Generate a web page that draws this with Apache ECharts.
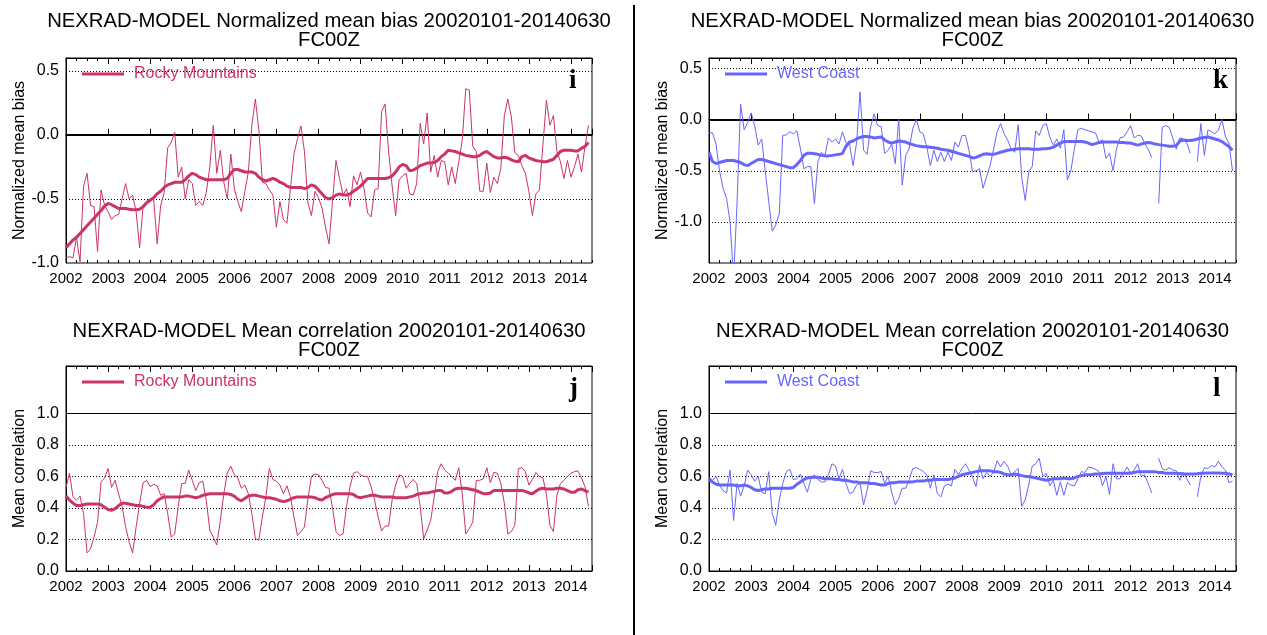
<!DOCTYPE html>
<html><head><meta charset="utf-8">
<script src="https://cdn.jsdelivr.net/npm/echarts@6/dist/echarts.min.js"></script>
<style>html,body{margin:0;padding:0;background:#fff}#c{width:1267px;height:635px}</style>
</head><body><div id="c"></div>
<script>
// ---- categories ----
const startYear = 2002, nMonths = 150;
const months = Array.from({length: nMonths}, (_, i) =>
  (startYear + Math.floor(i / 12)) + '-' + String(i % 12 + 1).padStart(2, '0'));
const yearLabels = [2002,2003,2004,2005,2006,2007,2008,2009,2010,2011,2012,2013,2014];
const biasTicks = [0.5, 0.0, -0.5, -1.0];
const corrTicks = [0.0, 0.2, 0.4, 0.6, 0.8, 1.0];
const biasGridRocky = [0.5, -0.5];
const biasGridWest = [0.5, -0.5, -1.0];
const corrGrid = [0.2, 0.4, 0.6, 0.8];

// ---- series values (monthly, 2002-01 .. 2014-06) ----
const rockyBias = [-0.96,-0.95,-0.96,-0.80,-0.99,-0.40,-0.30,-0.55,-0.56,-0.91,
 -0.43,-0.55,-0.60,-0.66,-0.63,-0.62,-0.50,-0.38,-0.50,-0.47,
 -0.60,-0.88,-0.55,-0.52,-0.50,-0.50,-0.85,-0.55,-0.45,-0.10,
 -0.06,0.02,-0.33,-0.25,-0.50,-0.35,-0.38,-0.55,-0.52,-0.55,
 -0.45,-0.25,0.075,-0.30,-0.12,-0.37,-0.50,-0.15,-0.42,-0.52,
 -0.60,-0.44,-0.29,0.075,0.28,0.04,-0.37,-0.38,-0.43,-0.47,
 -0.72,-0.52,-0.66,-0.69,-0.42,-0.15,-0.03,0.07,-0.13,-0.53,
 -0.63,-0.44,-0.49,-0.57,-0.72,-0.85,-0.52,-0.20,-0.34,-0.47,
 -0.42,-0.56,-0.32,-0.39,-0.29,-0.42,-0.61,-0.64,-0.43,-0.42,
 0.18,0.24,-0.13,-0.40,-0.63,-0.35,-0.32,-0.30,-0.46,-0.47,
 -0.38,0.09,-0.07,0.17,-0.29,-0.16,-0.33,-0.20,-0.21,-0.39,
 -0.25,-0.38,-0.21,-0.04,0.36,0.35,-0.09,-0.13,-0.44,-0.44,
 -0.22,-0.45,-0.33,-0.38,-0.26,0.15,0.28,0.14,-0.14,-0.16,
 -0.24,-0.30,-0.44,-0.63,-0.46,-0.43,-0.08,0.27,0.075,0.15,
 -0.13,-0.21,-0.34,-0.20,-0.33,-0.25,-0.15,-0.29,-0.09,0.075];
const rockyBiasSmooth = [-0.88,-0.85,-0.82,-0.80,-0.77,-0.74,-0.71,-0.68,-0.65,-0.62,
 -0.59,-0.555,-0.535,-0.545,-0.56,-0.575,-0.575,-0.575,-0.58,-0.585,
 -0.585,-0.58,-0.56,-0.53,-0.51,-0.49,-0.46,-0.44,-0.41,-0.39,
 -0.38,-0.37,-0.37,-0.37,-0.35,-0.32,-0.30,-0.31,-0.33,-0.34,
 -0.35,-0.35,-0.35,-0.35,-0.35,-0.35,-0.34,-0.30,-0.27,-0.27,
 -0.28,-0.29,-0.29,-0.29,-0.30,-0.33,-0.35,-0.36,-0.35,-0.34,
 -0.35,-0.37,-0.38,-0.40,-0.41,-0.41,-0.41,-0.41,-0.42,-0.41,
 -0.39,-0.40,-0.43,-0.46,-0.49,-0.50,-0.49,-0.47,-0.46,-0.47,
 -0.47,-0.46,-0.44,-0.42,-0.40,-0.37,-0.34,-0.34,-0.34,-0.34,
 -0.34,-0.34,-0.335,-0.32,-0.29,-0.25,-0.23,-0.24,-0.28,-0.275,
 -0.26,-0.24,-0.23,-0.22,-0.22,-0.215,-0.20,-0.17,-0.15,-0.12,
 -0.125,-0.13,-0.14,-0.15,-0.16,-0.165,-0.17,-0.17,-0.16,-0.14,
 -0.13,-0.15,-0.17,-0.18,-0.18,-0.175,-0.18,-0.195,-0.205,-0.21,
 -0.17,-0.16,-0.18,-0.19,-0.20,-0.205,-0.21,-0.21,-0.20,-0.19,
 -0.16,-0.13,-0.12,-0.12,-0.12,-0.125,-0.125,-0.105,-0.09,-0.06];
const westBias = [-0.13,-0.13,-0.24,-0.50,-0.67,-0.77,-1.00,-1.55,-0.80,0.15,
 -0.10,-0.03,0.065,-0.06,-0.25,-0.19,-0.50,-0.80,-1.09,-1.03,
 -0.92,-0.155,-0.15,-0.12,-0.14,-0.11,-0.28,-0.48,-0.46,-0.46,
 -0.82,-0.41,-0.32,-0.35,-0.18,-0.22,-0.19,-0.24,-0.12,-0.23,
 -0.24,-0.45,-0.23,0.27,-0.30,-0.34,-0.07,0.055,-0.06,-0.07,
 -0.33,-0.30,-0.24,-0.43,0.00,-0.64,-0.35,-0.28,-0.09,0.00,
 -0.12,-0.14,-0.27,-0.45,-0.30,-0.41,-0.32,-0.41,-0.32,-0.40,
 -0.22,-0.27,-0.155,-0.155,-0.30,-0.51,-0.50,-0.48,-0.67,-0.56,
 -0.45,-0.29,-0.12,-0.04,-0.14,-0.20,-0.29,-0.32,-0.05,-0.56,
 -0.79,-0.51,-0.46,-0.11,-0.155,-0.06,-0.04,-0.17,-0.25,-0.19,
 -0.28,-0.10,-0.59,-0.50,-0.285,-0.10,-0.085,-0.10,-0.11,-0.12,
 -0.13,-0.22,-0.20,-0.38,-0.33,-0.50,-0.285,-0.18,-0.17,-0.12,
 -0.06,-0.18,-0.155,-0.16,-0.23,-0.29,-0.37,null,-0.82,-0.075,
 -0.06,-0.075,-0.18,-0.29,-0.18,-0.19,-0.23,-0.33,null,-0.41,
 -0.04,-0.35,-0.10,-0.12,-0.14,-0.10,0.00,-0.17,-0.23,-0.50];
const westBiasSmooth = [-0.32,-0.41,-0.43,-0.42,-0.41,-0.40,-0.40,-0.40,-0.41,-0.42,
 -0.44,-0.45,-0.43,-0.41,-0.39,-0.39,-0.40,-0.41,-0.42,-0.43,
 -0.44,-0.45,-0.46,-0.47,-0.47,-0.44,-0.40,-0.35,-0.33,-0.33,
 -0.335,-0.34,-0.35,-0.355,-0.355,-0.35,-0.345,-0.34,-0.33,-0.26,
 -0.22,-0.21,-0.19,-0.175,-0.165,-0.165,-0.17,-0.18,-0.175,-0.17,
 -0.20,-0.22,-0.23,-0.22,-0.21,-0.215,-0.22,-0.235,-0.245,-0.255,
 -0.26,-0.265,-0.265,-0.27,-0.275,-0.28,-0.29,-0.295,-0.30,-0.31,
 -0.32,-0.33,-0.34,-0.35,-0.36,-0.375,-0.37,-0.355,-0.34,-0.335,
 -0.34,-0.34,-0.33,-0.32,-0.31,-0.30,-0.295,-0.29,-0.285,-0.285,
 -0.285,-0.285,-0.29,-0.29,-0.29,-0.285,-0.285,-0.28,-0.27,-0.25,
 -0.23,-0.215,-0.215,-0.215,-0.215,-0.215,-0.215,-0.22,-0.23,-0.245,
 -0.235,-0.225,-0.22,-0.22,-0.22,-0.22,-0.22,-0.225,-0.225,-0.23,
 -0.23,-0.24,-0.25,-0.24,-0.23,-0.225,-0.23,-0.24,-0.245,-0.25,
 -0.255,-0.26,-0.26,-0.255,-0.21,-0.20,-0.205,-0.205,-0.20,-0.19,
 -0.18,-0.175,-0.17,-0.18,-0.19,-0.20,-0.215,-0.24,-0.265,-0.30];
const rockyCorr = [0.53,0.62,0.47,0.45,0.475,0.365,0.115,0.14,0.215,0.31,
 0.565,0.59,0.65,0.53,0.575,0.49,0.41,0.28,0.185,0.115,
 0.28,0.43,0.56,0.575,0.535,0.55,0.54,0.48,0.49,0.365,
 0.215,0.235,0.41,0.555,0.555,0.64,0.575,0.51,0.56,0.57,
 0.45,0.26,0.215,0.165,0.32,0.49,0.62,0.665,0.61,0.59,
 0.525,0.545,0.49,0.365,0.205,0.195,0.345,0.47,0.65,0.58,
 0.57,0.545,0.49,0.54,0.47,0.345,0.225,0.25,0.28,0.46,
 0.60,0.615,0.61,0.575,0.53,0.525,0.40,0.25,0.225,0.235,
 0.41,0.535,0.62,0.63,0.61,0.60,0.60,0.535,0.45,0.345,
 0.255,0.285,0.285,0.45,0.545,0.61,0.60,0.525,0.555,0.58,
 0.555,0.41,0.205,0.26,0.32,0.47,0.63,0.68,0.64,0.62,
 0.60,0.575,0.655,0.49,0.235,0.27,0.31,0.575,0.575,0.585,
 0.655,0.56,0.625,0.62,0.555,0.43,0.235,0.25,0.29,0.65,
 0.655,0.63,0.545,0.58,0.625,0.60,0.59,0.49,0.29,0.25,
 0.48,0.555,0.575,0.60,0.62,0.63,0.635,0.59,0.535,0.41];
const rockyCorrSmooth = [0.475,0.45,0.43,0.415,0.415,0.42,0.425,0.425,0.425,0.425,
 0.42,0.405,0.39,0.385,0.395,0.415,0.43,0.43,0.425,0.42,
 0.415,0.415,0.41,0.405,0.405,0.42,0.445,0.46,0.47,0.47,
 0.47,0.47,0.47,0.47,0.475,0.475,0.47,0.465,0.47,0.48,
 0.485,0.49,0.49,0.49,0.49,0.49,0.49,0.485,0.475,0.455,
 0.445,0.46,0.475,0.48,0.48,0.475,0.47,0.465,0.465,0.46,
 0.455,0.445,0.44,0.445,0.455,0.465,0.47,0.47,0.47,0.47,
 0.47,0.465,0.455,0.45,0.465,0.475,0.485,0.49,0.49,0.49,
 0.49,0.49,0.485,0.47,0.465,0.47,0.475,0.48,0.48,0.475,
 0.47,0.47,0.47,0.47,0.465,0.465,0.465,0.465,0.47,0.475,
 0.485,0.49,0.495,0.495,0.50,0.505,0.51,0.51,0.495,0.495,
 0.505,0.52,0.525,0.525,0.525,0.52,0.515,0.51,0.50,0.49,
 0.49,0.495,0.51,0.51,0.51,0.51,0.51,0.51,0.51,0.51,
 0.51,0.505,0.495,0.49,0.505,0.52,0.525,0.52,0.52,0.52,
 0.525,0.525,0.52,0.51,0.50,0.50,0.515,0.52,0.51,0.50];
const westCorr = [0.595,0.575,0.60,0.545,0.51,0.495,0.64,0.32,0.555,0.475,
 0.54,0.64,0.61,0.57,0.60,0.50,0.49,0.63,0.365,0.29,
 0.45,0.555,0.63,0.645,0.58,0.585,0.615,0.555,0.50,0.585,
 0.61,0.58,0.565,0.565,0.61,0.68,0.665,0.585,0.645,0.555,
 0.49,0.50,0.545,0.555,0.42,0.51,0.635,0.625,0.625,0.63,
 0.555,0.60,0.50,0.42,0.46,0.525,0.525,0.58,0.65,0.655,
 0.645,0.63,0.61,0.525,0.61,0.49,0.47,0.54,0.55,0.54,
 0.645,0.61,0.65,0.68,0.64,0.595,0.535,0.67,0.585,0.625,
 0.60,0.625,0.70,0.66,0.695,0.665,0.61,0.63,0.65,0.41,
 0.45,0.545,0.665,0.68,0.715,0.60,0.62,0.54,0.575,0.48,
 0.565,0.48,0.56,0.545,0.54,0.585,0.63,0.625,0.66,0.655,
 0.645,0.63,0.54,0.60,0.485,0.68,0.585,0.585,0.62,0.66,
 0.62,0.64,0.68,0.60,0.61,0.555,0.495,null,0.715,0.65,
 0.64,0.655,0.64,0.635,0.575,0.625,0.585,0.545,null,0.47,
 0.60,0.655,0.65,0.67,0.66,0.695,0.66,0.64,0.56,0.57];
const westCorrSmooth = [0.58,0.565,0.55,0.545,0.545,0.545,0.545,0.545,0.54,0.54,
 0.545,0.54,0.53,0.515,0.51,0.515,0.52,0.52,0.525,0.525,
 0.525,0.525,0.525,0.525,0.53,0.55,0.565,0.58,0.59,0.595,
 0.595,0.595,0.59,0.585,0.585,0.585,0.58,0.58,0.575,0.575,
 0.57,0.565,0.565,0.56,0.56,0.56,0.555,0.555,0.55,0.545,
 0.545,0.555,0.56,0.56,0.565,0.565,0.565,0.565,0.565,0.57,
 0.57,0.57,0.575,0.575,0.58,0.58,0.58,0.58,0.58,0.585,
 0.59,0.60,0.61,0.615,0.62,0.625,0.63,0.635,0.635,0.635,
 0.635,0.63,0.63,0.625,0.615,0.61,0.61,0.615,0.61,0.605,
 0.60,0.60,0.595,0.59,0.585,0.58,0.575,0.58,0.585,0.585,
 0.585,0.59,0.585,0.585,0.59,0.60,0.605,0.61,0.61,0.612,
 0.615,0.615,0.618,0.62,0.62,0.62,0.62,0.62,0.62,0.62,
 0.62,0.625,0.63,0.63,0.63,0.63,0.63,0.63,0.625,0.625,
 0.62,0.62,0.62,0.62,0.618,0.615,0.615,0.615,0.615,0.617,
 0.62,0.62,0.622,0.622,0.622,0.622,0.62,0.62,0.615,0.61];

// ---- build ----
const FONT = '"Liberation Sans", Arial, Helvetica, sans-serif';
const ROCKY = '#CC3366', WEST = '#6666FF';
const monthX = months.map(m => { const p = m.split('-').map(Number); return p[0] + (p[1] - 1) / 12; });
const toPairs = arr => arr.map((v, i) => [monthX[i], v === null ? '-' : v]);
const inList = (v, list) => list.some(t => Math.abs(t - v) < 1e-6);
const fmt1 = v => (Math.round(v * 10) / 10 + 0).toFixed(1);

const biasTitle = 'NEXRAD-MODEL Normalized mean bias 20020101-20140630\nFC00Z';
const corrTitle = 'NEXRAD-MODEL Mean correlation 20020101-20140630\nFC00Z';

const panels = [
  {title: biasTitle, titleTop: 12, yName: 'Normalized mean bias', thin: rockyBias, thick: rockyBiasSmooth, region: 'Rocky Mountains', color: ROCKY, letter: 'i',
   grid: {left: 66, top: 58, width: 526, height: 205}, yMin: -1.0, yMax: 0.6, yStep: 0.5, ticks: biasTicks, dotted: biasGridRocky, solid: 0, solidW: 2},
  {title: biasTitle, titleTop: 12, yName: 'Normalized mean bias', thin: westBias, thick: westBiasSmooth, region: 'West Coast', color: WEST, letter: 'k',
   grid: {left: 709, top: 58, width: 527, height: 205}, yMin: -1.4, yMax: 0.6, yStep: 0.1, ticks: biasTicks, dotted: biasGridWest, solid: 0, solidW: 2},
  {title: corrTitle, titleTop: 322, yName: 'Mean correlation', thin: rockyCorr, thick: rockyCorrSmooth, region: 'Rocky Mountains', color: ROCKY, letter: 'j',
   grid: {left: 66, top: 366, width: 526, height: 205}, yMin: 0, yMax: 1.3, yStep: 0.1, ticks: corrTicks, dotted: corrGrid, solid: 1.0, solidW: 1},
  {title: corrTitle, titleTop: 322, yName: 'Mean correlation', thin: westCorr, thick: westCorrSmooth, region: 'West Coast', color: WEST, letter: 'l',
   grid: {left: 709, top: 366, width: 527, height: 205}, yMin: 0, yMax: 1.3, yStep: 0.1, ticks: corrTicks, dotted: corrGrid, solid: 1.0, solidW: 1}
];

const option = {animation: false, backgroundColor: '#fff', grid: [], xAxis: [], yAxis: [], series: [], title: [], legend: [], graphic: []};
const xMin = yearLabels[0], xMax = yearLabels[yearLabels.length - 1] + 0.5;

panels.forEach((p, g) => {
  option.grid.push(Object.assign({show: true, borderColor: '#000', borderWidth: 1, backgroundColor: 'transparent'}, p.grid));
  const base = {type: 'value', gridIndex: g, min: xMin, max: xMax, splitLine: {show: false}};
  const mainIdx = option.xAxis.length;
  option.xAxis.push(Object.assign({}, base, {position: 'bottom', interval: 1,
    axisLine: {show: true, lineStyle: {color: '#000', width: 1}},
    axisTick: {show: true, inside: true, length: 6, lineStyle: {color: '#000'}},
    axisLabel: {show: true, color: '#000', fontFamily: FONT, fontSize: 15, margin: 8,
      formatter: v => inList(v, yearLabels) ? String(Math.round(v)) : ''}}));
  option.xAxis.push(Object.assign({}, base, {position: 'bottom', interval: 0.25, axisLine: {show: false},
    axisTick: {show: true, inside: true, length: 3, lineStyle: {color: '#000'}}, axisLabel: {show: false}}));
  option.xAxis.push(Object.assign({}, base, {position: 'top', interval: 1, axisLine: {show: true, lineStyle: {color: '#000'}},
    axisTick: {show: true, inside: true, length: 6, lineStyle: {color: '#000'}}, axisLabel: {show: false}}));
  option.xAxis.push(Object.assign({}, base, {position: 'top', interval: 0.25, axisLine: {show: false},
    axisTick: {show: true, inside: true, length: 3, lineStyle: {color: '#000'}}, axisLabel: {show: false}}));

  option.yAxis.push({type: 'value', gridIndex: g, min: p.yMin, max: p.yMax, interval: p.yStep,
    name: p.yName, nameLocation: 'middle', nameGap: 38,
    nameTextStyle: {color: '#000', fontFamily: FONT, fontSize: 16},
    axisLine: {show: true, lineStyle: {color: '#000'}}, axisTick: {show: false}, splitLine: {show: false},
    axisLabel: {color: '#000', fontFamily: FONT, fontSize: 16, margin: 7,
      formatter: v => inList(v, p.ticks) ? fmt1(v) : ''}});

  option.series.push({type: 'line', name: p.region + ' monthly', xAxisIndex: mainIdx, yAxisIndex: g,
    data: toPairs(p.thin), symbol: 'none', silent: true, z: 3,
    lineStyle: {color: p.color, width: 1}, itemStyle: {color: p.color}});
  option.series.push({type: 'line', name: p.region, xAxisIndex: mainIdx, yAxisIndex: g,
    data: toPairs(p.thick), symbol: 'none', silent: true, z: 4,
    lineStyle: {color: p.color, width: 3}, itemStyle: {color: p.color},
    markLine: {silent: true, symbol: 'none', label: {show: false}, z: 2,
      data: p.dotted.map(v => ({yAxis: v, lineStyle: {color: '#000', width: 1, type: [1, 2]}}))
        .concat([{yAxis: p.solid, lineStyle: {color: '#000', width: p.solidW, type: 'solid'}}])}});

  const cx = p.grid.left + p.grid.width / 2;
  option.title.push({text: p.title, left: cx, top: p.titleTop, textAlign: 'center', padding: 0,
    textStyle: {color: '#000', fontFamily: FONT, fontSize: 20.3, fontWeight: 'normal', lineHeight: 19}});

  option.legend.push({data: [p.region], left: p.grid.left + 16, top: p.grid.top + 8, padding: 0,
    icon: 'rect', itemWidth: 42, itemHeight: 3, selectedMode: false,
    textStyle: {color: p.color, fontFamily: FONT, fontSize: 16, padding: [0, 0, 0, 5]}});

  option.graphic.push({type: 'text', x: p.grid.left + p.grid.width - 23, y: p.grid.top + 23,
    style: {text: p.letter, font: 'bold 27px "Liberation Serif", "Times New Roman", serif', fill: '#000', verticalAlign: 'middle', align: 'left'}});
});

option.graphic.push({type: 'line', shape: {x1: 634, y1: 5, x2: 634, y2: 635}, style: {stroke: '#000', lineWidth: 2}});

const chart = echarts.init(document.getElementById('c'), null, {renderer: 'canvas'});
chart.setOption(option);
</script>
</body></html>
